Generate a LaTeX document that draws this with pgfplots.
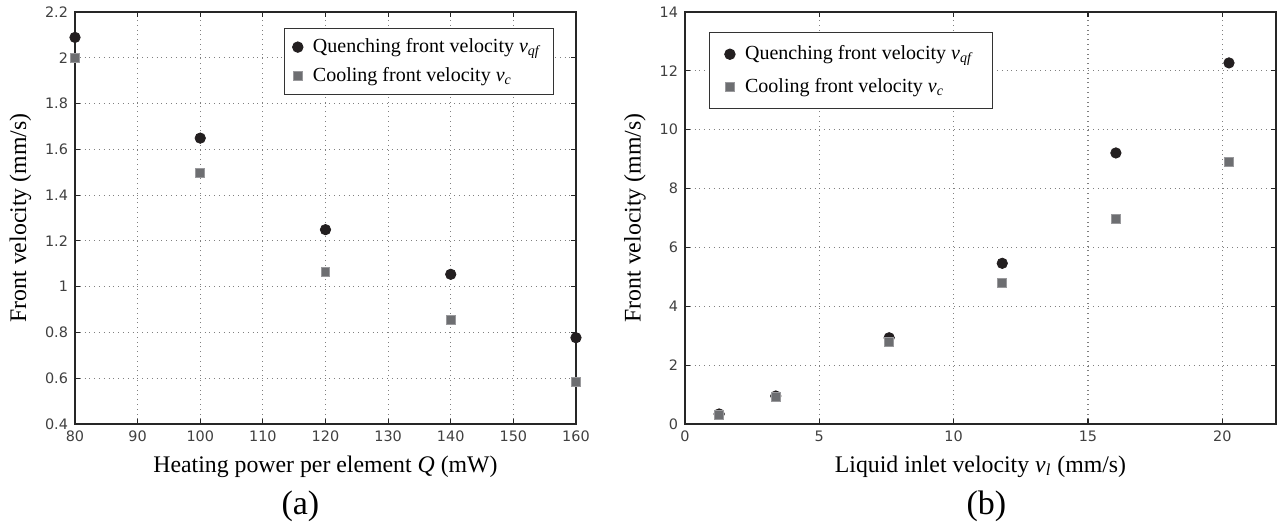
\documentclass[border=0pt]{standalone}
\usepackage{pgfplots}
\pgfplotsset{compat=1.18}
\usepackage{fontspec}
\setmainfont{Liberation Serif}
\setsansfont{DejaVu Sans}

\definecolor{qcol}{HTML}{231F20}
\definecolor{ccol}{HTML}{6D6E71}

\pgfplotsset{
  frontstyle/.style={
    scale only axis, height=206pt,
    clip mode=individual,
    axis line style={line width=0.7pt, color=black!85},
    tick style={line width=0.6pt, color=black!85},
    major tick length=2.5pt,
    tick align=inside,
    grid=major,
    major grid style={dotted, line width=0.6pt, color=black!50},
    tick label style={font=\fontsize{7.2}{8}\selectfont\sffamily, color=black!75},
    /pgf/number format/assume math mode=true,
    label style={font=\fontsize{11.9}{13}\selectfont},
    ylabel={Front velocity (mm/s)},
    legend style={font=\fontsize{10}{11}\selectfont, draw=black!80,
      line width=0.5pt, row sep=2pt, column sep=3pt, inner xsep=4pt, inner ysep=3pt},
    legend cell align=left,
  },
  qf/.style={only marks, mark=*, mark size=2.6pt, mark options={fill=qcol, draw=qcol}},
  cf/.style={only marks, mark=square*, mark size=2.2pt, mark options={fill=ccol, draw=ccol!70!white}},
}

\begin{document}
\begin{tikzpicture}
\useasboundingbox (-37.5pt,-51pt) rectangle (603.5pt,212pt);

% (a) heating power
\begin{axis}[frontstyle,
  width=250.5pt,
  xmin=80, xmax=160, ymin=0.4, ymax=2.2,
  xtick={80,90,...,160}, ytick={0.4,0.6,...,2.2},
  xlabel={Heating power per element \textit{Q} (mW)},
  legend style={at={(0.956,0.961)}, anchor=north east},
]
\addplot[qf] coordinates {(80,2.089) (100,1.649) (120,1.249) (140,1.054) (160,0.777)};
\addlegendentry{Quenching front velocity \textit{v}\textsubscript{\textit{qf}}}
\addplot[cf] coordinates {(80,2.0) (100,1.497) (120,1.064) (140,0.854) (160,0.583)};
\addlegendentry{Cooling front velocity \textit{v}\textsubscript{\textit{c}}}
\node[font=\fontsize{17}{18}\selectfont] at (axis description cs:0.45,-0.199) {(a)};
\end{axis}

% (b) liquid inlet velocity
\begin{axis}[frontstyle,
  at={(305pt,0)}, anchor=south west,
  width=295.5pt,
  xmin=0, xmax=22, ymin=0, ymax=14,
  xtick={0,5,...,20}, ytick={0,2,...,14},
  xlabel={Liquid inlet velocity \textit{v}\textsubscript{\textit{l}} (mm/s)},
  legend style={at={(0.041,0.951)}, anchor=north west,
    inner xsep=7.5pt, inner ysep=4.5pt, row sep=4pt},
]
\addplot[qf] coordinates {(1.27,0.34) (3.38,0.95) (7.6,2.93) (11.81,5.46) (16.04,9.21) (20.25,12.27)};
\addlegendentry{Quenching front velocity \textit{v}\textsubscript{\textit{qf}}}
\addplot[cf] coordinates {(1.27,0.32) (3.38,0.93) (7.6,2.80) (11.81,4.79) (16.04,6.98) (20.25,8.9)};
\addlegendentry{Cooling front velocity \textit{v}\textsubscript{\textit{c}}}
\node[font=\fontsize{17}{18}\selectfont] at (axis description cs:0.51,-0.199) {(b)};
\end{axis}
\end{tikzpicture}
\end{document}
